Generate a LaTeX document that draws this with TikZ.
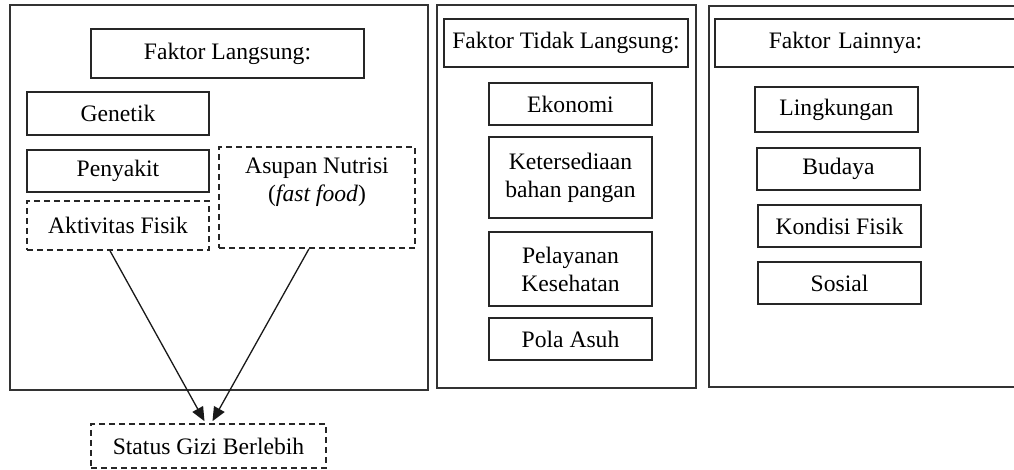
\documentclass[tikz,border=0pt]{standalone}
\usepackage{fontspec}
\setmainfont{Liberation Serif}
\usetikzlibrary{arrows.meta}
\tikzset{
  panel/.style={draw=black!80, line width=0.8pt, inner sep=0pt},
  box/.style={draw=black!85, line width=0.8pt, inner sep=0pt, align=center},
  dbox/.style={box, dash pattern=on 3pt off 2pt},
  arr/.style={draw=black!90, line width=0.65pt, -{Triangle[length=7pt,width=6pt]}}
}
\begin{document}
\begin{tikzpicture}[x=0.5pt,y=-0.5pt,font=\fontsize{11.8}{14}\selectfont]
\useasboundingbox (0,0) rectangle (1014,470);
\clip (0,0) rectangle (1014,470);
\fill[white] (0,0) rectangle (1014,470);
% panels
\node[panel, minimum width=209pt, minimum height=192.5pt] (p1) at (219,197.5) {};
\node[panel, minimum width=129.5pt, minimum height=191.5pt] (p2) at (566.5,196.5) {};
\node[panel, anchor=north west, minimum width=180pt, minimum height=190.5pt] (p3) at (708,5) {};
% left panel
\node[box, minimum width=136.5pt, minimum height=24.5pt] (fl) at (227.5,53.5) {Faktor Langsung:};
\node[box, minimum width=91pt, minimum height=21.5pt] (gen) at (118,113.5) {Genetik};
\node[box, minimum width=91pt, minimum height=21pt] (pen) at (118,171) {Penyakit};
\node[dbox, minimum width=91pt, minimum height=24.5pt] (akt) at (118,225.5) {Aktivitas Fisik};
\node[dbox, minimum width=98pt, minimum height=50.5pt] (asu) at (317,197.5) {Asupan Nutrisi\\(\textit{fast food})\\\strut};
\node[dbox, minimum width=117.5pt, minimum height=22pt] (sg) at (208.5,446) {Status Gizi Berlebih};
% middle panel
\node[box, minimum width=122pt, minimum height=24pt] (tl) at (566,43) {Faktor Tidak Langsung:};
\node[box, minimum width=81.5pt, minimum height=21pt] (eko) at (570.5,104) {Ekonomi};
\node[box, minimum width=81.5pt, minimum height=40.5pt] (ket) at (570.5,177.5) {Ketersediaan\\bahan pangan};
\node[box, minimum width=81.5pt, minimum height=37pt] (pel) at (570.5,269) {Pelayanan\\Kesehatan};
\node[box, minimum width=81.5pt, minimum height=21pt] (pol) at (570.5,339) {Pola Asuh};
% right panel
\node[box, anchor=west, align=left, text width=131pt, inner xsep=27pt, minimum height=24pt] (la) at (714,43) {Faktor Lainnya:};
\node[box, minimum width=81.5pt, minimum height=22.5pt] (lin) at (836.5,109.5) {Lingkungan};
\node[box, minimum width=81.5pt, minimum height=21pt] (bud) at (838.5,169) {Budaya};
\node[box, minimum width=81.5pt, minimum height=21pt] (kon) at (839.5,226) {Kondisi Fisik};
\node[box, minimum width=81.5pt, minimum height=21pt] (sos) at (839.5,283) {Sosial};
% arrows
\draw[arr] ([xshift=-4pt]akt.south) -- ([xshift=-2pt,yshift=1pt]sg.north);
\draw[arr] ([xshift=-4pt]asu.south) -- ([xshift=2pt,yshift=1pt]sg.north);
\end{tikzpicture}
\end{document}
